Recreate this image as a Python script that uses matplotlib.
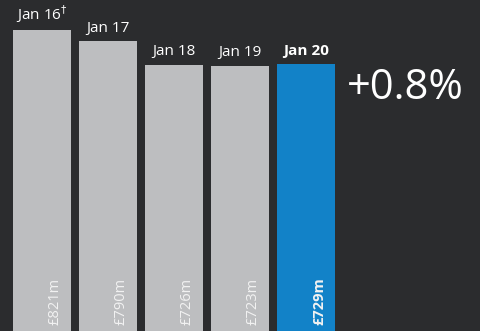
import matplotlib
matplotlib.use("Agg")
import matplotlib.pyplot as plt

plt.rcParams['font.family'] = ['Open Sans', 'DejaVu Sans']

periods = ['Jan 16', 'Jan 17', 'Jan 18', 'Jan 19', 'Jan 20']
revenue = [821, 790, 726, 723, 729]
value_labels = ['£821m', '£790m', '£726m', '£723m', '£729m']
change_label = '+0.8%'

bg = '#2b2c2e'
grey = '#bdbec0'
blue = '#1282c8'

fig = plt.figure(figsize=(4.8, 3.31), dpi=100, facecolor=bg)
ax = fig.add_axes([0, 0, 1, 1], facecolor=bg)

colors = [grey] * (len(periods) - 1) + [blue]
x = list(range(len(periods)))
ax.bar(x, revenue, width=0.879, color=colors, align='center')

ax.set_xlim(-0.636, 6.636)
ax.set_ylim(0, 903)
ax.axis('off')

for i, (p, v, lab) in enumerate(zip(periods, revenue, value_labels)):
    last = i == len(periods) - 1
    txt = p + ('$^{\u2020}$' if i == 0 else '')
    ax.annotate(txt, (i, v), xytext=(0, 4), textcoords='offset points',
                ha='center', va='bottom', color='white', fontsize=11,
                fontweight='bold' if last else 'normal')
    ax.annotate(lab, (i + 0.44, 0), xytext=(-6, 4), textcoords='offset points',
                ha='right', va='bottom', rotation=90, color='#f2f2f2',
                fontsize=10.5, fontweight='bold' if last else 'normal')

ax.text(5.51, 663, change_label, ha='center', va='center', color='white',
        fontsize=30)

fig.savefig('out.png', dpi=100, facecolor=bg)
